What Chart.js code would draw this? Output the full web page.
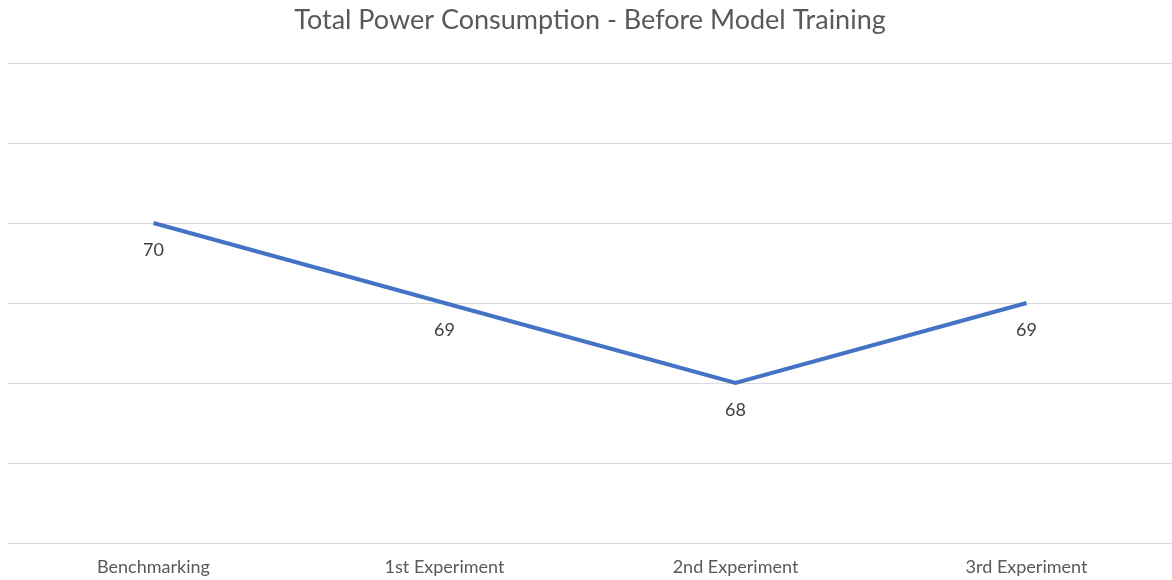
<!DOCTYPE html>
<html>
<head>
<meta charset="utf-8">
<script src="https://cdn.jsdelivr.net/npm/chart.js@4"></script>
<style>
    html, body { margin: 0; padding: 0; background: #fff; }
    #wrap { width: 1172px; height: 580px; position: relative; }
</style>
</head>
<body>
<div id="wrap"><canvas id="lineChart"></canvas></div>
<script>
const categories = ['Benchmarking', '1st Experiment', '2nd Experiment', '3rd Experiment'];
const powerValues = [70, 69, 68, 69];
const yMin = 66;
const yMax = 72;

// draws the value under each point, like the office chart labels
const valueLabels = {
    id: 'valueLabels',
    afterDatasetsDraw(chart) {
        const ctx = chart.ctx;
        const meta = chart.getDatasetMeta(0);
        ctx.save();
        ctx.font = '18px Lato, "Open Sans", sans-serif';
        ctx.fillStyle = '#404040';
        ctx.textAlign = 'center';
        ctx.textBaseline = 'middle';
        meta.data.forEach((pt, i) => {
            ctx.fillText(String(powerValues[i]), pt.x, pt.y + 27);
        });
        ctx.restore();
    }
};

document.addEventListener("DOMContentLoaded", () => {
    const ctx = document.getElementById('lineChart').getContext('2d');
    new Chart(ctx, {
        type: 'line',
        data: {
            labels: categories,
            datasets: [{
                data: powerValues,
                borderColor: '#4472C4',
                borderWidth: 4,
                pointRadius: 0,
                tension: 0,
                fill: false
            }]
        },
        options: {
            responsive: true,
            maintainAspectRatio: false,
            animation: false,
            layout: { padding: { left: 8, right: 0, top: 4, bottom: -11 } },
            plugins: {
                legend: { display: false },
                tooltip: { enabled: false },
                title: {
                    display: true,
                    text: 'Total Power Consumption - Before Model Training',
                    color: '#595959',
                    font: { family: 'Lato, "Open Sans", sans-serif', size: 27, weight: 'normal' },
                    padding: { top: 0, bottom: 26.6 }
                }
            },
            scales: {
                x: {
                    offset: true,
                    grid: { display: false, drawTicks: false },
                    border: { display: false },
                    ticks: {
                        color: '#595959',
                        font: { family: 'Lato, "Open Sans", sans-serif', size: 18 },
                        padding: 13.2,
                        maxRotation: 0
                    }
                },
                y: {
                    min: yMin,
                    max: yMax,
                    ticks: { display: false, stepSize: 1 },
                    grid: { color: '#d9d9d9', lineWidth: 1, drawTicks: false },
                    border: { display: false }
                }
            }
        },
        plugins: [valueLabels]
    });
});
</script>
</body>
</html>
